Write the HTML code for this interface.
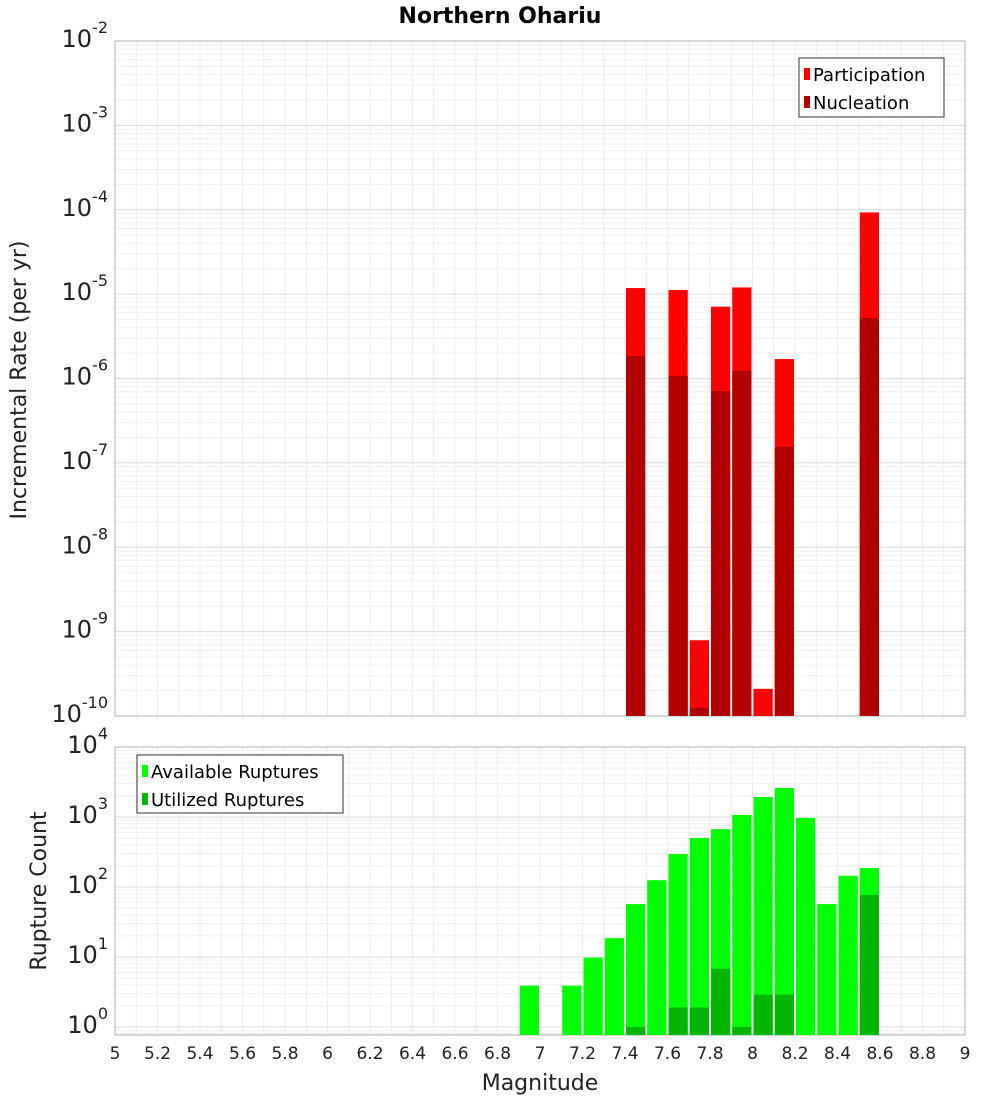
<!DOCTYPE html>
<html><head><meta charset="utf-8"><style>
body{margin:0;background:#fff}
svg text{font-family:"DejaVu Sans","Liberation Sans",sans-serif}
</style></head><body>
<svg id="c" width="1000" height="1100" xmlns="http://www.w3.org/2000/svg"></svg>
<script>
const binStarts=[7.4,7.6,7.7,7.8,7.9,8.0,8.1,8.5];
const participation=[1.18e-5,1.12e-5,7.9e-10,7.1e-6,1.2e-5,2.1e-10,1.7e-6,9.3e-5];
const nucleation=[1.85e-6,1.07e-6,1.26e-10,7.1e-7,1.23e-6,null,1.55e-7,5.2e-6];
const countBins=[6.9,7.1,7.2,7.3,7.4,7.5,7.6,7.7,7.8,7.9,8.0,8.1,8.2,8.3,8.4,8.5];
const available=[3.9,3.9,9.8,18.6,57,125,295,500,670,1070,1930,2600,970,57,145,187];
const utilized=[null,null,null,null,1,null,1.9,1.9,6.8,1,2.9,2.9,null,null,null,77];
const xTicks=[5,5.2,5.4,5.6,5.8,6,6.2,6.4,6.6,6.8,7,7.2,7.4,7.6,7.8,8,8.2,8.4,8.6,8.8,9];
const topExp=[-2,-3,-4,-5,-6,-7,-8,-9,-10];
const botExp=[4,3,2,1,0];

const svg=document.getElementById('c');const NS='http://www.w3.org/2000/svg';
function mk(t,a,p){const e=document.createElementNS(NS,t);for(const k in a)e.setAttribute(k,a[k]);(p||svg).appendChild(e);return e;}
const X0=115,X1=965;
const x=m=>X0+(m-5)/4*(X1-X0);
const T0=41,T1=716;const yT=v=>T0+(-2-Math.log10(v))/8*(T1-T0);
const B0=747,B1=1035,BPD=70;const yB=v=>B0+(4-Math.log10(v))*BPD;

function panel(top,bot,yf,minE,maxE,name){
  const g=mk('g',{});
  
  for(let m=5;m<=9.001;m+=0.1){mk('line',{x1:x(m),x2:x(m),y1:top,y2:bot,stroke:'#ececec','stroke-width':1},g);}
  for(let e=minE;e<maxE;e++)for(let k=1;k<10;k++){const yy=yf(k*Math.pow(10,e));if(yy>=top&&yy<=bot)mk('line',{x1:X0,x2:X1,y1:yy,y2:yy,stroke:k==1?'#dcdcdc':'#efefef','stroke-width':1},g);}
  const r=mk('rect',{x:X0,y:top,width:X1-X0,height:bot-top,fill:'none',stroke:'#b0b0b0'});
  
}
panel(T0,T1,yT,-10,-2,'rate');
panel(B0,B1,yB,-1,4,'count');

function bars(bins,vals,yf,base,color,name){
  bins.forEach((b,i)=>{const v=vals[i];if(v==null)return;const yy=yf(v);
    const r=mk('rect',{x:x(b)+1,y:yy,width:x(b+0.1)-x(b)-2,height:base-yy,fill:color});
    });
}
bars(binStarts,participation,yT,T1,'#ff0000','participation-bar');
bars(binStarts,nucleation,yT,T1,'#b00000','nucleation-bar');
bars(countBins,available,yB,B1,'#00ff00','available-bar');
bars(countBins,utilized,yB,B1,'#00b400','utilized-bar');

function ylab(exp,yy,name){const t=mk('text',{x:108,y:yy+12,'text-anchor':'end','font-size':24,fill:'#222'});
  
  t.innerHTML='10<tspan dy="-14" font-size="16">'+exp+'</tspan>';}
topExp.forEach(e=>ylab(e,yT(Math.pow(10,e))-6,'rate-tick-label'));
botExp.forEach(e=>ylab(e,yB(Math.pow(10,e))-6,'count-tick-label'));
xTicks.forEach(m=>{const t=mk('text',{x:x(m),y:1059,'text-anchor':'middle','font-size':17,fill:'#222'});t.textContent=String(m);
  });

function txt(s,a,name){const t=mk('text',a);t.textContent=s;return t;}
txt('Northern Ohariu',{x:500,y:23,'text-anchor':'middle','font-size':22,'font-weight':'bold',fill:'#000'},'chart-title');
txt('Magnitude',{x:540,y:1090,'text-anchor':'middle','font-size':22,fill:'#222'},'x-axis-title');
txt('Incremental Rate (per yr)',{x:0,y:0,transform:'translate(26,380) rotate(-90)','text-anchor':'middle','font-size':22,fill:'#222'},'top-y-axis-title');
txt('Rupture Count',{x:0,y:0,transform:'translate(46,891) rotate(-90)','text-anchor':'middle','font-size':22,fill:'#222'},'bottom-y-axis-title');

function legend(x0,y0,w,h,items,name){const g=mk('g',{});
  mk('rect',{x:x0,y:y0,width:w,height:h,fill:'#fff',stroke:'#333'},g);
  items.forEach((it,i)=>{const yy=y0+18+i*28;mk('rect',{x:x0+5,y:yy-8,width:6,height:12,fill:it[1]},g);
    const t=mk('text',{x:x0+14,y:yy+5,'font-size':18,fill:'#000'},g);t.textContent=it[0];
    });}
legend(799,58,145,59,[['Participation','#ff0000'],['Nucleation','#b00000']],'rate-legend');
legend(137,755,206,58,[['Available Ruptures','#00ff00'],['Utilized Ruptures','#00b400']],'count-legend');
</script>
</body></html>
